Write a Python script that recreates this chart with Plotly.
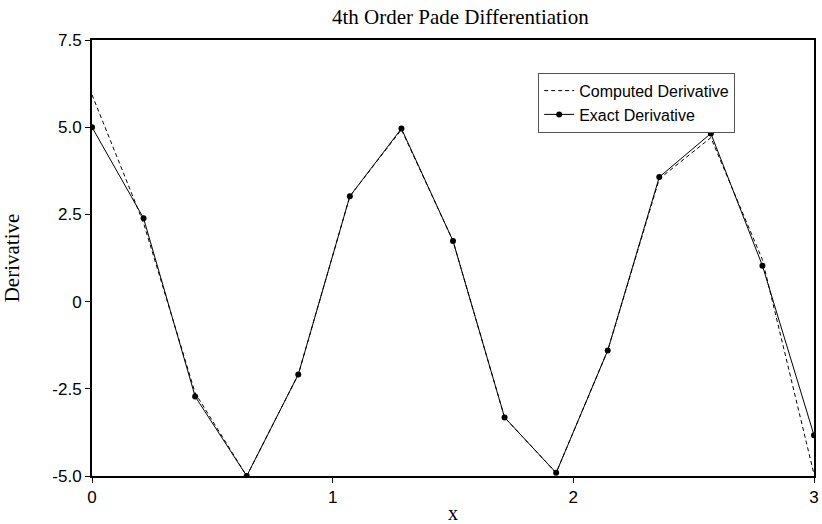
import plotly.graph_objects as go

x_vals = [0.0, 0.2143, 0.4286, 0.6429, 0.8571, 1.0714, 1.2857, 1.5,
          1.7143, 1.9286, 2.1429, 2.3571, 2.5714, 2.7857, 3.0]
exact = [5.0, 2.39, -2.72, -5.0, -2.09, 3.02, 4.96, 1.74,
         -3.32, -4.91, -1.4, 3.57, 4.82, 1.03, -3.83]
computed = [5.93, 2.25, -2.62, -5.0, -2.09, 3.02, 4.93, 1.74,
            -3.32, -4.91, -1.4, 3.52, 4.7, 1.2, -4.95]

y_ticks = [7.5, 5.0, 2.5, 0, -2.5, -5.0]
y_labels = ["7.5", "5.0", "2.5", "0", "-2.5", "-5.0"]
x_ticks = [0, 1, 2, 3]

fig = go.Figure()
fig.add_trace(go.Scatter(
    x=x_vals, y=computed, mode="lines", name="Computed Derivative",
    line=dict(color="black", width=1, dash="4px,3px"),
))
fig.add_trace(go.Scatter(
    x=x_vals, y=exact, mode="lines+markers", name="Exact Derivative",
    line=dict(color="black", width=1),
    marker=dict(color="black", size=6),
))

axis_common = dict(
    showline=True, linecolor="black", linewidth=2, mirror=True,
    ticks="outside", ticklen=5, tickwidth=1, tickcolor="black",
    showgrid=False, zeroline=False,
    tickfont=dict(family="Liberation Sans, Arial", size=17, color="black"),
)

serif = "Liberation Serif, Times New Roman"

fig.update_layout(
    title=dict(text="4th Order Pade Differentiation", x=0.56, xanchor="center",
               y=0.968, yanchor="middle",
               font=dict(family=serif, size=21, color="black")),
    xaxis=dict(range=[0, 3], tickvals=x_ticks,
               title=dict(text="x", standoff=0,
                          font=dict(family=serif, size=20, color="black")),
               **axis_common),
    yaxis=dict(range=[-5.0, 7.5], tickvals=y_ticks, ticktext=y_labels,
               title=dict(text="Derivative", standoff=27,
                          font=dict(family=serif, size=21, color="black")),
               **axis_common),
    legend=dict(x=0.618, y=0.925, xanchor="left", yanchor="top",
                bordercolor="#555", borderwidth=1, bgcolor="white",
                font=dict(family="Liberation Sans, Arial", size=16, color="black"),
                tracegroupgap=0),
    plot_bgcolor="white",
    paper_bgcolor="white",
    width=822, height=524,
    margin=dict(l=92, r=3, t=40, b=46),
    showlegend=True,
)

fig.write_html("out.html", config={"displayModeBar": False},
               post_script="document.body.style.margin='0';"
                           "document.body.style.overflow='hidden';")
